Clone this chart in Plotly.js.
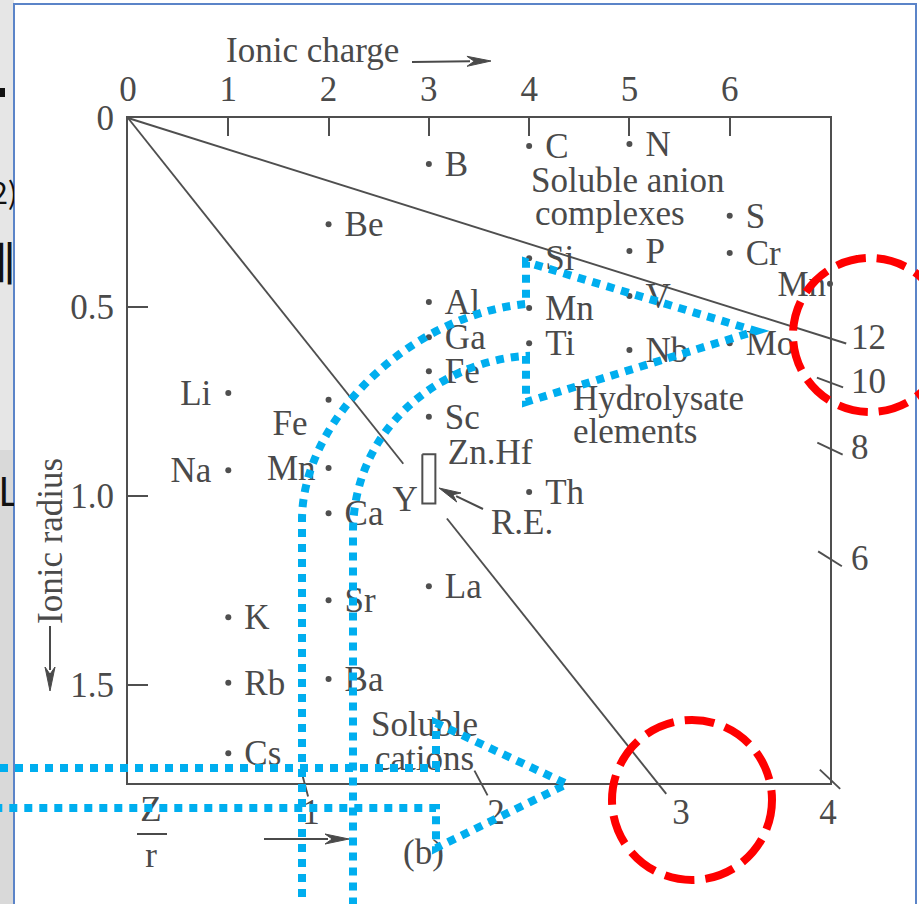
<!DOCTYPE html>
<html>
<head>
<meta charset="utf-8">
<script src="https://cdn.plot.ly/plotly-3.0.1.min.js"></script>
<style>
  html, body { margin: 0; padding: 0; background: #fff; }
  #chart { width: 919px; height: 904px; }
</style>
</head>
<body>
<div id="chart"></div>
<script>
// ---- Ions: symbol, ionic charge, ionic radius (Å) ----
const ionNames   = ['C','N','B','Be','S','Cr','Si','P','Mn','Al',
                    'Mn','V','Ga','Ti','Nb','Mo','Fe','Li','Fe','Sc',
                    'Na','Mn','Th','Ca','La','Sr','K','Ba','Rb','Cs'];
const ionCharges = [4,5,3,2,6,6,4,5,7,3,
                    4,5,3,4,5,6,3,1,2,3,
                    1,2,4,2,3,2,1,2,1,1];
const ionRadii   = [0.074,0.069,0.122,0.281,0.259,0.357,0.371,0.352,0.439,0.487,
                    0.503,0.471,0.580,0.596,0.614,0.596,0.670,0.728,0.746,0.791,
                    0.932,0.926,0.990,1.046,1.239,1.276,1.321,1.485,1.495,1.681];

// Labels printed without a dot of their own
const extraNames   = ['Y','Zn.Hf'];
const extraCharges = [3, 3];
const extraRadii   = [1.01, 0.884];

// Rare-earth block (charge 3, radius span)
const reCharge = 3;
const reRadius = [0.89, 1.02];

// Axis ticks
const chargeTicks = [0,1,2,3,4,5,6];
const radiusTicks = [0, 0.5, 1.0, 1.5];
const radiusTickText = ['0','0.5','1.0','1.5'];

// Ionic potential Z/r scale marks and the two boundary rays
const zrTicks = [1,2,3,4,6,8,10,12];
const zrBoundaries = [3, 12];
const zr3Gap = [0.915, 1.06];   // ray 3 is broken around the Y / R.E. labels

// ---- Geometry of the drawing ----
const W = 919, H = 904;
const FX0 = 128, FX1 = 830, FY0 = 118, FY1 = 783;   // frame in px
const cMax = 7, rMax = 1.76;
const sx = (FX1 - FX0) / cMax;   // px per unit charge
const sy = (FY1 - FY0) / rMax;   // px per Å
const FONT = 'Liberation Serif';
const INK = '#4a4a4a';
const LINE = '#4f4f4f';
const FS = 35;

const X = px => px / W;          // px -> paper
const Y = py => 1 - py / H;
const dc = px => px / sx;        // px offset -> charge units
const dr = px => px / sy;        // px offset -> radius units
const toC = px => (px - FX0) / sx;
const toR = py => (py - FY0) / sy;

// ---- Ion dots and labels ----
const labelRule = {               // key: symbol + charge
  Li1: {side: 'left', gap: 17, dy: 0},
  Na1: {side: 'left', gap: 17, dy: 0},
  Mn2: {side: 'left', gap: 13, dy: 0},
  Mn7: {side: 'left', gap: 4,  dy: 0},
  Fe2: {side: 'left', gap: 21, dy: 23}
};
const DEFAULT_RULE = {side: 'right', gap: 16, dy: 0};

const rightLab = {x: [], y: [], text: []};
const leftLab = {x: [], y: [], text: []};
ionNames.forEach((n, i) => {
  const rule = labelRule[n + ionCharges[i]] || DEFAULT_RULE;
  const tgt = rule.side === 'right' ? rightLab : leftLab;
  const sgn = rule.side === 'right' ? 1 : -1;
  tgt.x.push(ionCharges[i] + sgn * dc(rule.gap));
  tgt.y.push(ionRadii[i] + dr(rule.dy + 3));
  tgt.text.push(n);
});
// Y sits left of the R.E. block, Zn.Hf to the right
leftLab.x.push(extraCharges[0] - dc(11)); leftLab.y.push(extraRadii[0] + dr(3)); leftLab.text.push(extraNames[0]);
rightLab.x.push(extraCharges[1] + dc(19)); rightLab.y.push(extraRadii[1] + dr(3)); rightLab.text.push(extraNames[1]);

const textFont = {family: FONT, size: FS, color: INK};

const traces = [];

traces.push({
  type: 'scatter', mode: 'markers', x: ionCharges, y: ionRadii,
  xaxis: 'x', yaxis: 'y', cliponaxis: false, hoverinfo: 'skip',
  marker: {size: 6, color: LINE}
});

// R.E. block
traces.push({
  type: 'scatter', mode: 'lines', xaxis: 'x', yaxis: 'y', hoverinfo: 'skip',
  x: [reCharge - 0.065, reCharge + 0.065, reCharge + 0.065, reCharge - 0.065, reCharge - 0.065],
  y: [reRadius[0], reRadius[0], reRadius[1], reRadius[1], reRadius[0]],
  line: {color: LINE, width: 2}
});

// ---- Z/r rays and scale marks (drawn on the full-canvas axes) ----
function crossing(z) {
  if (z * rMax <= cMax + 0.05) return {c: Math.min(z * rMax, cMax), r: Math.min(rMax, cMax / z), bottom: true};
  return {c: cMax, r: cMax / z, bottom: false};
}
function along(z, p, px) {        // move px pixels outward along ray z
  const norm = Math.hypot(z * sx, sy);
  return {c: p.c + px * z / norm, r: p.r + px / norm};
}
const rayX = [], rayY = [];
zrTicks.forEach(z => {
  const cr = crossing(z);
  const outer = along(z, cr, z === 12 ? 17 : 14);
  let inner;
  if (z === 12) inner = {c: 0, r: 0};
  else if (z === 3) {
    rayX.push(0, z * zr3Gap[0], null); rayY.push(0, zr3Gap[0], null);
    inner = {c: z * zr3Gap[1], r: zr3Gap[1]};
  } else inner = along(z, cr, -14);
  rayX.push(inner.c, outer.c, null); rayY.push(inner.r, outer.r, null);
});
traces.push({
  type: 'scatter', mode: 'lines', x: rayX, y: rayY, xaxis: 'x2', yaxis: 'y2',
  hoverinfo: 'skip', line: {color: LINE, width: 1.9}
});

const zrLab = {bx: [], by: [], bt: [], rx: [], ry: [], rt: []};
const rLab = toR(815);
zrTicks.forEach(z => {
  const cr = crossing(z);
  if (cr.bottom) { zrLab.bx.push(Math.min(z * rLab, cMax) - dc(2)); zrLab.by.push(rLab); zrLab.bt.push(String(z)); }
  else { zrLab.rx.push(cMax + dc(21)); zrLab.ry.push(cr.r + dr(2)); zrLab.rt.push(String(z)); }
});

// element labels
traces.push({type: 'scatter', mode: 'text', x: rightLab.x, y: rightLab.y, text: rightLab.text,
  textposition: 'middle right', textfont: textFont, xaxis: 'x2', yaxis: 'y2', hoverinfo: 'skip'});
traces.push({type: 'scatter', mode: 'text', x: leftLab.x, y: leftLab.y, text: leftLab.text,
  textposition: 'middle left', textfont: textFont, xaxis: 'x2', yaxis: 'y2', hoverinfo: 'skip'});
traces.push({type: 'scatter', mode: 'text', x: zrLab.bx, y: zrLab.by, text: zrLab.bt,
  textposition: 'middle center', textfont: textFont, xaxis: 'x2', yaxis: 'y2', hoverinfo: 'skip'});
traces.push({type: 'scatter', mode: 'text', x: zrLab.rx, y: zrLab.ry, text: zrLab.rt,
  textposition: 'middle right', textfont: textFont, xaxis: 'x2', yaxis: 'y2', hoverinfo: 'skip'});

// region captions (left edge px, centre-line px)
const captions = [
  ['Ionic charge', 226, 53], ['Soluble anion', 531, 183], ['complexes', 535, 216],
  ['Hydrolysate', 573, 401], ['elements', 573, 434], ['Soluble', 371, 727],
  ['cations', 375, 761], ['R.E.', 491, 525], ['(b)', 403, 855]
];
traces.push({type: 'scatter', mode: 'text', textposition: 'middle right', textfont: textFont,
  x: captions.map(c => toC(c[1])), y: captions.map(c => toR(c[2])), text: captions.map(c => c[0]),
  xaxis: 'x2', yaxis: 'y2', hoverinfo: 'skip'});
// Z / r fraction
traces.push({type: 'scatter', mode: 'text', textposition: 'middle center', textfont: textFont,
  x: [toC(151), toC(151)], y: [toR(812), toR(858)], text: ['Z', 'r'],
  xaxis: 'x2', yaxis: 'y2', hoverinfo: 'skip'});

// slide text peeking in at the left edge
traces.push({type: 'scatter', mode: 'text', xaxis: 'x3', yaxis: 'y3', hoverinfo: 'skip',
  x: [16, 18, -2], y: [268, 196, 496], text: ['에', '2)', 'L'],
  textposition: ['middle left', 'middle left', 'middle right'],
  textfont: {family: 'Noto Sans CJK KR', size: [46, 30, 40], color: '#111'}});

// ---- Decorations ----
function arrow(x0, y0, x1, y1, len, half, color, width) {
  const ddx = x1 - x0, ddy = y1 - y0, L = Math.hypot(ddx, ddy), ux = ddx / L, uy = ddy / L;
  const bx = x1 - ux * len, by = y1 - uy * len, nx = -uy, ny = ux;
  return [
    {type: 'line', xref: 'paper', yref: 'paper', x0: X(x0), y0: Y(y0), x1: X(bx + ux * 3), y1: Y(by + uy * 3),
     line: {color: color, width: width}},
    {type: 'path', xref: 'paper', yref: 'paper', fillcolor: color, line: {color: color, width: 1},
     path: `M${X(x1)},${Y(y1)} L${X(bx + nx * half)},${Y(by + ny * half)} L${X(bx + ux * len * 0.3)},${Y(by + uy * len * 0.3)} L${X(bx - nx * half)},${Y(by - ny * half)} Z`}
  ];
}
function pathPx(cmds) {
  return cmds.map(c => c[0] + c.slice(1).reduce((s, v, k) => s + (k % 2 === 0 ? (k ? ' ' : '') + X(v) : ',' + Y(v)), '')).join(' ');
}

const BLUE = '#00aeef', RED = '#ff0000';
const shapes = [
  // slide strip and frame of the inserted figure
  {type: 'rect', xref: 'paper', yref: 'paper', layer: 'below', x0: 0, x1: X(14), y0: 0, y1: Y(450),
   fillcolor: '#d9d9d9', line: {width: 0}},
  {type: 'rect', xref: 'paper', yref: 'paper', layer: 'below', x0: 0, x1: X(14), y0: Y(450), y1: 1,
   fillcolor: '#e6e6e6', line: {width: 0}},
  {type: 'rect', xref: 'paper', yref: 'paper', layer: 'below', x0: 0, x1: X(5), y0: Y(97), y1: Y(88),
   fillcolor: '#111', line: {width: 0}},
  {type: 'path', xref: 'paper', yref: 'paper', layer: 'below', line: {color: '#5b84c8', width: 2},
   path: pathPx([['M', 14, 904], ['L', 14, 4], ['L', 916, 4], ['L', 916, 904]])},
  // fraction bar of Z/r
  {type: 'line', xref: 'paper', yref: 'paper', x0: X(137), x1: X(167), y0: Y(834), y1: Y(834),
   line: {color: INK, width: 2}},
  ...arrow(412, 62, 491, 61, 24, 5, INK, 2),
  ...arrow(50, 626, 50, 691, 24, 5, INK, 2),
  ...arrow(264, 839, 349, 839, 24, 5, INK, 2),
  ...arrow(483, 509, 439, 488, 22, 5, INK, 2),
  // highlight callouts
  {type: 'path', xref: 'paper', yref: 'paper', line: {color: BLUE, width: 8, dash: '8px,7px'},
   path: pathPx([['M', 302, 912], ['L', 302, 520], ['C', 302, 420, 410, 315, 526, 304], ['L', 526, 262],
                 ['L', 756, 331], ['L', 526, 402], ['L', 526, 356], ['C', 450, 360, 355, 420, 353, 530],
                 ['L', 353, 912]])},
  {type: 'path', xref: 'paper', yref: 'paper', line: {color: BLUE, width: 8, dash: '8px,7px'},
   path: pathPx([['M', 0, 768], ['L', 436, 768], ['L', 436, 723], ['L', 567, 784], ['L', 436, 848],
                 ['L', 436, 808], ['L', 0, 808]])},
  {type: 'circle', xref: 'paper', yref: 'paper', line: {color: RED, width: 8, dash: '30px,11px'},
   x0: X(870 - 77), x1: X(870 + 77), y0: Y(335 + 77), y1: Y(335 - 77)},
  {type: 'circle', xref: 'paper', yref: 'paper', line: {color: RED, width: 8, dash: '30px,11px'},
   x0: X(692 - 80), x1: X(692 + 80), y0: Y(800 + 80), y1: Y(800 - 80)}
];

const layout = {
  width: W, height: H,
  margin: {l: 0, r: 0, t: 0, b: 0, pad: 0},
  paper_bgcolor: '#ffffff', plot_bgcolor: 'rgba(0,0,0,0)',
  showlegend: false, hovermode: false,
  xaxis: {
    domain: [X(FX0), X(FX1)], range: [0, cMax], side: 'top', anchor: 'y',
    tickvals: chargeTicks, ticks: 'inside', ticklen: 18, tickwidth: 2, tickcolor: LINE,
    showline: true, linecolor: LINE, linewidth: 2, mirror: true,
    showgrid: false, zeroline: false, ticklabelstandoff: 1,
    tickfont: {family: FONT, size: FS, color: INK}, fixedrange: true
  },
  yaxis: {
    domain: [Y(FY1), Y(FY0)], range: [rMax, 0], anchor: 'x',
    tickvals: radiusTicks, ticktext: radiusTickText, ticks: 'inside', ticklen: 20, tickwidth: 2, tickcolor: LINE,
    showline: true, linecolor: LINE, linewidth: 2, mirror: true,
    showgrid: false, zeroline: false, ticklabelstandoff: 5,
    tickfont: {family: FONT, size: FS, color: INK}, fixedrange: true
  },
  xaxis2: {domain: [0, 1], range: [-FX0 / sx, (W - FX0) / sx], anchor: 'y2', visible: false, fixedrange: true},
  yaxis2: {domain: [0, 1], range: [(H - FY0) / sy, -FY0 / sy], anchor: 'x2', visible: false, fixedrange: true},
  xaxis3: {domain: [0, X(14)], range: [0, 14], anchor: 'y3', visible: false, fixedrange: true},
  yaxis3: {domain: [0, 1], range: [H, 0], anchor: 'x3', visible: false, fixedrange: true},
  shapes: shapes,
  annotations: [
    {text: 'Ionic radius', xref: 'paper', yref: 'paper', x: X(50), y: Y(541), textangle: -90,
     showarrow: false, font: {family: FONT, size: FS, color: INK}, xanchor: 'center', yanchor: 'middle'}
  ]
};

Plotly.newPlot('chart', traces, layout, {staticPlot: true, displayModeBar: false});
</script>
</body>
</html>
